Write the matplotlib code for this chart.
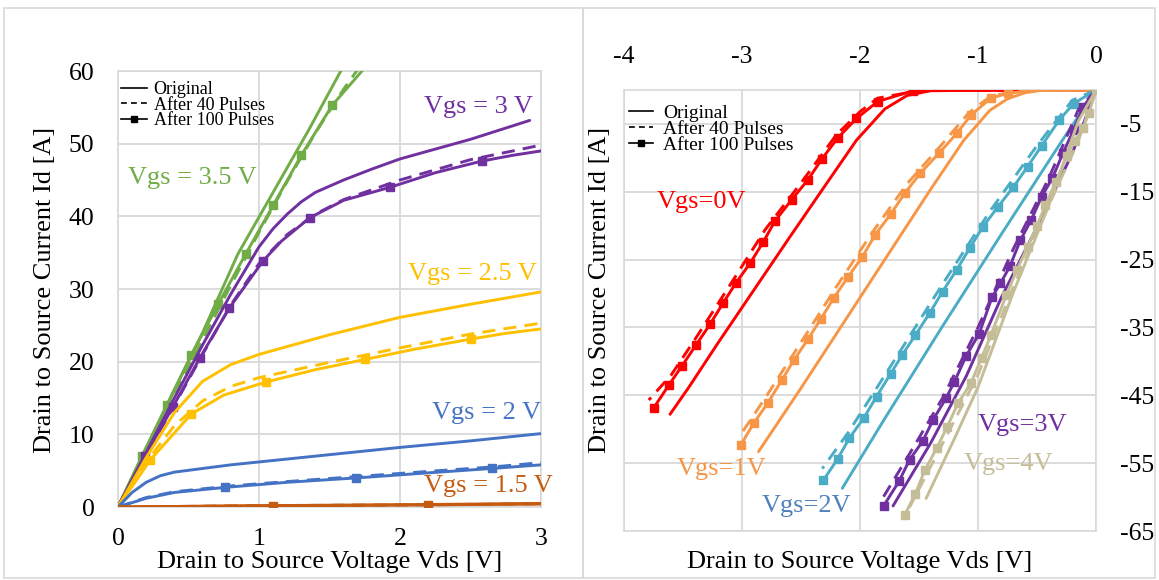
import matplotlib.pyplot as plt
from matplotlib.lines import Line2D
from matplotlib.patches import Rectangle

plt.rcParams['font.family'] = ['Liberation Serif', 'DejaVu Serif']
plt.rcParams['axes.unicode_minus'] = False

# ---------------- left panel: Vds [V] -> Id [A] ----------------
vgs35_orig_v = [0, 0.2, 0.4, 0.6, 0.85, 1.1, 1.35, 1.58, 1.62]
vgs35_orig_i = [0, 8.2, 16.2, 24.0, 34.8, 43.3, 51.8, 60.0, 61.5]
vgs35_p40_v = [0, 0.2, 0.4, 0.6, 0.8, 1.0, 1.2, 1.4, 1.6, 1.7, 1.75]
vgs35_p40_i = [0, 7.8, 15.5, 23.0, 30.5, 37.8, 44.8, 51.5, 57.5, 60.2, 61.5]
vgs35_p100_v = [0, 0.17, 0.35, 0.52, 0.71, 0.905, 1.10, 1.30, 1.52, 1.73, 1.78]
vgs35_p100_i = [0, 7.0, 14.0, 20.9, 27.9, 34.8, 41.5, 48.4, 55.3, 60.0, 61.3]
vgs35_marks = [1, 2, 3, 4, 5, 6, 7, 8]

vgs3_orig_v = [0, 0.2, 0.4, 0.6, 0.8, 1.0, 1.1, 1.2, 1.3, 1.4, 1.6, 1.8, 2.0, 2.5, 2.92]
vgs3_orig_i = [0, 7.5, 15.0, 22.3, 29.3, 35.8, 38.3, 40.3, 42.0, 43.3, 45.0, 46.5, 47.9, 50.6, 53.2]
vgs3_p40_v = [0, 0.2, 0.4, 0.6, 0.8, 1.0, 1.2, 1.4, 1.6, 2.0, 2.5, 3.0]
vgs3_p40_i = [0, 7.2, 14.0, 21.0, 27.8, 33.5, 37.5, 40.3, 42.3, 45.0, 47.8, 49.8]
vgs3_p100_v = [0, 0.19, 0.39, 0.58, 0.79, 1.03, 1.16, 1.36, 1.6, 1.93, 2.25, 2.58, 2.8, 3.0]
vgs3_p100_i = [0, 7.0, 13.8, 20.5, 27.4, 33.9, 36.6, 39.8, 42.2, 44.0, 46.0, 47.6, 48.4, 49.0]
vgs3_marks = [1, 2, 3, 4, 5, 7, 9, 11]

vgs25_orig_v = [0, 0.2, 0.4, 0.6, 0.8, 1.0, 1.5, 2.0, 2.5, 3.0]
vgs25_orig_i = [0, 6.8, 13.0, 17.3, 19.6, 21.0, 23.7, 26.1, 27.9, 29.6]
vgs25_p40_v = [0, 0.2, 0.4, 0.6, 0.8, 1.0, 1.5, 2.0, 2.5, 3.0]
vgs25_p40_i = [0, 6.2, 11.2, 14.6, 16.6, 17.8, 19.9, 21.9, 23.8, 25.3]
vgs25_p100_v = [0, 0.23, 0.52, 0.75, 1.05, 1.4, 1.75, 2.1, 2.5, 2.75, 3.0]
vgs25_p100_i = [0, 6.5, 12.8, 15.4, 17.2, 18.9, 20.3, 21.7, 23.1, 23.9, 24.5]
vgs25_marks = [1, 2, 4, 6, 8]

vgs2_orig_v = [0, 0.1, 0.2, 0.3, 0.4, 0.56, 0.8, 1.0, 1.5, 2.0, 2.5, 3.0]
vgs2_orig_i = [0, 2.0, 3.4, 4.3, 4.8, 5.2, 5.8, 6.2, 7.2, 8.2, 9.1, 10.1]
vgs2_p40_v = [0, 0.2, 0.4, 0.8, 1.2, 1.7, 2.2, 2.65, 3.0]
vgs2_p40_i = [0, 1.3, 2.1, 2.9, 3.5, 4.2, 4.9, 5.5, 6.1]
vgs2_p100_v = [0, 0.2, 0.4, 0.76, 1.2, 1.69, 2.2, 2.65, 3.0]
vgs2_p100_i = [0, 1.2, 2.0, 2.7, 3.4, 4.0, 4.7, 5.3, 5.8]
vgs2_marks = [3, 5, 7]

vgs15_orig_v = [0, 1.0, 2.0, 3.0]
vgs15_orig_i = [0, 0.15, 0.3, 0.5]
vgs15_p40_v = [0, 1.1, 2.2, 3.0]
vgs15_p40_i = [0, 0.2, 0.3, 0.45]
vgs15_p100_v = [0, 1.1, 2.2, 3.0]
vgs15_p100_i = [0, 0.2, 0.3, 0.4]
vgs15_marks = [1, 2]

# ---------------- right panel: reverse conduction ----------------
r0_orig_v = [0, -1.0, -1.4, -1.6, -1.79, -2.03, -2.3, -2.6, -2.9, -3.2, -3.45, -3.61]
r0_orig_i = [0, 0, -0.1, -0.8, -2.8, -7.4, -14.2, -21.8, -29.5, -37.2, -43.8, -47.8]
r0_p40_v = [0, -1.5, -1.85, -2.0, -2.2, -2.5, -2.8, -3.1, -3.4, -3.6, -3.79]
r0_p40_i = [0, -0.1, -1.2, -3.2, -6.6, -13.7, -20.5, -28.7, -36.8, -42.0, -45.7]
r0_p100_v = [0, -1.55, -1.85, -2.03, -2.19, -2.32, -2.44, -2.58, -2.72, -2.82, -2.93,
             -3.05, -3.16, -3.27, -3.39, -3.51, -3.62, -3.75]
r0_p100_i = [0, -0.1, -1.7, -4.2, -7.1, -10.1, -13.2, -16.2, -19.3, -22.4, -25.5,
             -28.4, -31.4, -34.5, -37.6, -40.7, -43.5, -46.9]

r1_orig_v = [0, -0.45, -0.6, -0.75, -0.9, -1.12, -1.4, -1.7, -2.0, -2.3, -2.51, -2.86]
r1_orig_i = [0, 0, -0.4, -1.3, -3.0, -7.4, -14.6, -22.6, -30.6, -38.6, -44.2, -53.3]
r1_p40_v = [0, -0.55, -0.75, -0.9, -1.08, -1.3, -1.6, -1.9, -2.2, -2.5, -2.8, -3.0]
r1_p40_i = [0, -0.1, -0.4, -1.0, -3.4, -7.9, -13.8, -21.1, -29.0, -37.2, -45.3, -50.5]
r1_p100_v = [0, -0.55, -0.75, -0.89, -1.06, -1.18, -1.33, -1.49, -1.62, -1.74, -1.87,
             -1.98, -2.10, -2.22, -2.33, -2.44, -2.56, -2.66, -2.78, -2.90, -3.01]
r1_p100_i = [0, -0.1, -0.5, -1.2, -3.7, -6.4, -9.3, -12.3, -15.2, -18.3, -21.3,
             -24.6, -27.5, -30.6, -33.7, -36.7, -39.8, -42.7, -46.1, -49.1, -52.3]

r2_orig_v = [0, -0.3, -0.8, -1.3, -1.8, -2.15]
r2_orig_i = [0, -7.8, -21.2, -34.8, -48.7, -58.7]
r2_p40_v = [0, -0.2, -0.5, -0.9, -1.3, -1.7, -2.1, -2.32]
r2_p40_i = [0, -1.5, -8.2, -17.9, -28.6, -39.6, -50.5, -55.8]
r2_p100_v = [0, -0.19, -0.31, -0.46, -0.58, -0.70, -0.83, -0.96, -1.07, -1.18, -1.30,
             -1.41, -1.53, -1.64, -1.74, -1.86, -1.97, -2.09, -2.19, -2.31]
r2_p100_i = [0, -2.0, -4.4, -8.2, -11.3, -14.3, -17.2, -20.2, -23.3, -26.5, -29.7,
             -32.9, -36.1, -39.0, -41.8, -45.2, -48.4, -51.3, -54.4, -57.5]

r3_orig_v = [0, -0.2, -0.5, -0.8, -1.1, -1.4, -1.72]
r3_orig_i = [0, -9.3, -20.2, -30.5, -42.2, -52.0, -61.3]
r3_p40_v = [0, -0.15, -0.4, -0.7, -1.0, -1.3, -1.6, -1.82]
r3_p40_i = [0, -2.9, -13.0, -23.4, -35.0, -45.4, -54.2, -60.5]
r3_p100_v = [0, -0.11, -0.19, -0.28, -0.37, -0.46, -0.55, -0.64, -0.73, -0.81, -0.88,
             -0.99, -1.10, -1.20, -1.27, -1.38, -1.47, -1.58, -1.67, -1.80]
r3_p100_i = [0, -2.5, -5.9, -9.3, -13.0, -15.7, -19.2, -22.1, -26.0, -28.5, -30.5,
             -35.9, -39.2, -43.0, -45.4, -48.6, -51.8, -54.5, -57.7, -61.3]

r4_orig_v = [0, -0.15, -0.4, -0.7, -1.0, -1.2, -1.44]
r4_orig_i = [0, -4.6, -17.0, -29.8, -43.8, -51.4, -60.2]
r4_p40_v = [0, -0.15, -0.4, -0.7, -1.0, -1.3, -1.58]
r4_p40_i = [0, -7.5, -17.0, -29.0, -42.0, -52.1, -61.5]
r4_p100_v = [0, -0.06, -0.11, -0.18, -0.25, -0.34, -0.43, -0.50, -0.58, -0.67, -0.76,
             -0.89, -0.97, -1.06, -1.17, -1.26, -1.35, -1.45, -1.53, -1.62]
r4_p100_i = [0, -3.4, -5.6, -7.5, -9.8, -13.5, -17.0, -20.0, -23.1, -26.5, -30.2,
             -36.1, -39.5, -43.2, -46.2, -49.6, -52.8, -56.0, -59.5, -62.6]

GRID = '#D9D9D9'
LW = 2.1
DASH = (4.5, 2.8)
TICK_FS = 18.5
TITLE_FS = 19
VGS_FS = 19


def draw_set(ax, color, orig, p40, p100, marks):
    ax.plot(orig[0], orig[1], color=color, lw=LW, solid_capstyle='round', zorder=3)
    ax.plot(p40[0], p40[1], color=color, lw=LW, dashes=DASH, zorder=3)
    ax.plot(p100[0], p100[1], color=color, lw=LW, marker='s', markersize=6.3,
            markevery=marks, zorder=3)


def style_axes(ax):
    for s in ax.spines.values():
        s.set_color(GRID)
        s.set_linewidth(1.2)
    ax.grid(True, color=GRID, lw=1.3)
    ax.set_axisbelow(True)
    ax.tick_params(length=0, labelsize=TICK_FS)


def legend(ax, fs, anchor, hl, tp, sp):
    handles = [Line2D([], [], color='black', lw=1.2),
               Line2D([], [], color='black', lw=1.2, dashes=(3.5, 2.5)),
               Line2D([], [], color='black', lw=1.2, marker='s', markersize=5)]
    ax.legend(handles, ['Original', 'After 40 Pulses', 'After 100 Pulses'],
              loc='upper left', bbox_to_anchor=anchor, frameon=False, fontsize=fs,
              borderpad=0, borderaxespad=0, handlelength=hl, handletextpad=tp,
              labelspacing=sp)


W, H = 1159, 580
fig = plt.figure(figsize=(W / 100, H / 100), dpi=100)

# panel frames
fig.patches.append(Rectangle((4 / W, 2 / H), 579 / W, 570 / H, transform=fig.transFigure,
                             fill=False, ec=GRID, lw=1.2))
fig.patches.append(Rectangle((583 / W, 2 / H), 572 / W, 570 / H, transform=fig.transFigure,
                             fill=False, ec=GRID, lw=1.2))

# ---------- left ----------
ax1 = fig.add_axes([118 / W, 1 - 507 / H, 423 / W, 436 / H])
style_axes(ax1)
draw_set(ax1, '#70AD47', (vgs35_orig_v, vgs35_orig_i), (vgs35_p40_v, vgs35_p40_i),
         (vgs35_p100_v, vgs35_p100_i), vgs35_marks)
draw_set(ax1, '#7030A0', (vgs3_orig_v, vgs3_orig_i), (vgs3_p40_v, vgs3_p40_i),
         (vgs3_p100_v, vgs3_p100_i), vgs3_marks)
draw_set(ax1, '#FFC000', (vgs25_orig_v, vgs25_orig_i), (vgs25_p40_v, vgs25_p40_i),
         (vgs25_p100_v, vgs25_p100_i), vgs25_marks)
draw_set(ax1, '#4472C4', (vgs2_orig_v, vgs2_orig_i), (vgs2_p40_v, vgs2_p40_i),
         (vgs2_p100_v, vgs2_p100_i), vgs2_marks)
draw_set(ax1, '#C55A11', (vgs15_orig_v, vgs15_orig_i), (vgs15_p40_v, vgs15_p40_i),
         (vgs15_p100_v, vgs15_p100_i), vgs15_marks)
ax1.set_xlim(0, 3)
ax1.set_ylim(0, 60)
ax1.set_xticks([0, 1, 2, 3])
ax1.set_yticks([0, 10, 20, 30, 40, 50, 60])
ax1.tick_params(axis='x', pad=15)
ax1.tick_params(axis='y', pad=17)

ax1.text(0.07, 45.3, 'Vgs = 3.5 V', color='#70AD47', fontsize=VGS_FS, va='center')
ax1.text(2.94, 55.0, 'Vgs = 3 V', color='#7030A0', fontsize=VGS_FS, va='center', ha='right')
ax1.text(2.97, 32.0, 'Vgs = 2.5 V', color='#FFC000', fontsize=VGS_FS, va='center', ha='right')
ax1.text(3.0, 12.9, 'Vgs = 2 V', color='#4472C4', fontsize=VGS_FS, va='center', ha='right')
ax1.text(3.08, 2.9, 'Vgs = 1.5 V', color='#C55A11', fontsize=VGS_FS, va='center', ha='right',
         clip_on=False)
legend(ax1, 13, (0.008, 0.976), 1.4, 0.38, -0.1)

fig.text(330 / W, 1 - 562 / H, 'Drain to Source Voltage Vds [V]', fontsize=TITLE_FS,
         ha='center', va='center')
fig.text(45 / W, 1 - 290 / H, 'Drain to Source Current Id [A]', fontsize=TITLE_FS,
         ha='center', va='center', rotation=90)

# ---------- right ----------
ax2 = fig.add_axes([624 / W, 1 - 531 / H, 472 / W, 441 / H])
style_axes(ax2)
draw_set(ax2, '#FF0000', (r0_orig_v, r0_orig_i), (r0_p40_v, r0_p40_i),
         (r0_p100_v, r0_p100_i), list(range(1, len(r0_p100_v))))
draw_set(ax2, '#F79646', (r1_orig_v, r1_orig_i), (r1_p40_v, r1_p40_i),
         (r1_p100_v, r1_p100_i), list(range(2, len(r1_p100_v))))
draw_set(ax2, '#4BACC6', (r2_orig_v, r2_orig_i), (r2_p40_v, r2_p40_i),
         (r2_p100_v, r2_p100_i), list(range(1, len(r2_p100_v))))
draw_set(ax2, '#7030A0', (r3_orig_v, r3_orig_i), (r3_p40_v, r3_p40_i),
         (r3_p100_v, r3_p100_i), list(range(1, len(r3_p100_v))))
draw_set(ax2, '#C4BD97', (r4_orig_v, r4_orig_i), (r4_p40_v, r4_p40_i),
         (r4_p100_v, r4_p100_i), list(range(0, len(r4_p100_v))))
ax2.set_xlim(-4, 0)
ax2.set_ylim(-65, 0)
ax2.set_xticks([-4, -3, -2, -1, 0])
ax2.set_yticks([-5, -15, -25, -35, -45, -55, -65])
ax2.xaxis.tick_top()
ax2.yaxis.tick_right()
ax2.tick_params(axis='x', pad=15.5)
ax2.tick_params(axis='y', pad=17)

ax2.text(-3.72, -16.5, 'Vgs=0V', color='#FF0000', fontsize=VGS_FS, va='center')
ax2.text(-3.55, -55.9, 'Vgs=1V', color='#F79646', fontsize=VGS_FS, va='center')
ax2.text(-2.83, -61.3, 'Vgs=2V', color='#4F81BD', fontsize=VGS_FS, va='center')
ax2.text(-1.0, -49.4, 'Vgs=3V', color='#7030A0', fontsize=VGS_FS, va='center')
ax2.text(-1.12, -55.1, 'Vgs=4V', color='#C4BD97', fontsize=VGS_FS, va='center')
legend(ax2, 14, (0.01, 0.968), 1.25, 0.52, -0.07)

fig.text(860 / W, 1 - 562 / H, 'Drain to Source Voltage Vds [V]', fontsize=TITLE_FS,
         ha='center', va='center')
fig.text(600 / W, 1 - 290 / H, 'Drain to Source Current Id [A]', fontsize=TITLE_FS,
         ha='center', va='center', rotation=90)

fig.savefig('out.png', dpi=100)
